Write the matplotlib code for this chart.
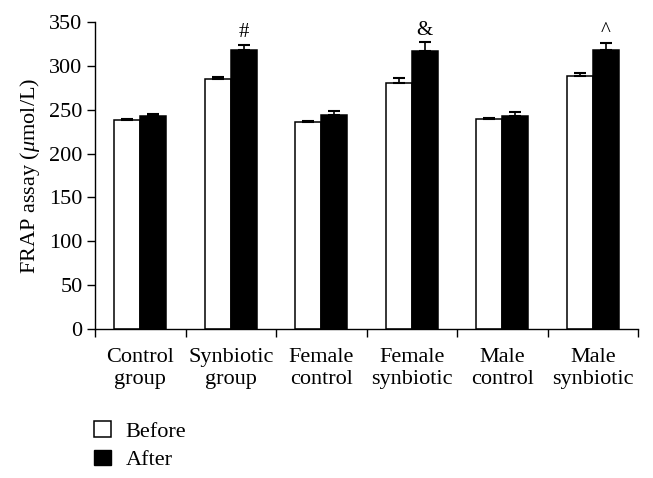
import matplotlib
matplotlib.use("Agg")
import matplotlib.pyplot as plt
import numpy as np
from matplotlib.patches import Patch
from matplotlib.ticker import FixedLocator

plt.rcParams['font.family'] = ['Liberation Serif', 'DejaVu Serif']
plt.rcParams['mathtext.fontset'] = 'custom'
plt.rcParams['mathtext.rm'] = 'Liberation Serif'
plt.rcParams['mathtext.it'] = 'Liberation Serif:italic'

categories = ["Control\ngroup", "Synbiotic\ngroup", "Female\ncontrol",
              "Female\nsynbiotic", "Male\ncontrol", "Male\nsynbiotic"]
before = [238, 284.5, 236.5, 280, 239.5, 289]
before_err = [1, 3, 1, 6, 1.5, 2.5]
after = [242.5, 318, 244, 317.5, 243, 318.5]
after_err = [3, 6, 5, 9.5, 4, 7]
marks = ["", "#", "", "&", "", "^"]
yticks = [0, 50, 100, 150, 200, 250, 300, 350]

fig = plt.figure(figsize=(6.53, 4.78), dpi=100)
ax = fig.add_axes([95/653, 1-329/478, (638-95)/653, (329-22)/478])

x = np.arange(len(categories))
w = 0.29
fs = 16

ax.bar(x - w/2, before, w, color='white', edgecolor='black', linewidth=1.1, zorder=2)
ax.bar(x + w/2, after, w, color='black', edgecolor='black', linewidth=1.1, zorder=2)
ax.errorbar(x - w/2, before, yerr=[np.zeros(len(before)), before_err], fmt='none',
            ecolor='black', elinewidth=1.2, capsize=4.5, capthick=1.5, zorder=3)
ax.errorbar(x + w/2, after, yerr=[np.zeros(len(after)), after_err], fmt='none',
            ecolor='black', elinewidth=1.2, capsize=4.5, capthick=1.5, zorder=3)

for xi, a, e, m in zip(x, after, after_err, marks):
    if m:
        ax.text(xi + w/2, a + e + 3, m, ha='center', va='bottom', fontsize=15)

ax.set_xlim(-0.5, len(categories) - 0.5)
ax.set_ylim(0, 350)
ax.set_yticks(yticks)
ax.set_xticks(x)
ax.set_xticklabels(categories, fontsize=fs, linespacing=1.15)
ax.xaxis.set_minor_locator(FixedLocator(np.arange(-0.5, len(categories), 1.0)))
ax.tick_params(axis='x', which='major', length=0, pad=14)
ax.tick_params(axis='x', which='minor', length=6, width=1, direction='out')
ax.tick_params(axis='y', length=6, width=1, direction='out', labelsize=fs, pad=3)
for s in ['top', 'right']:
    ax.spines[s].set_visible(False)
for s in ['left', 'bottom']:
    ax.spines[s].set_linewidth(1)

ax.set_ylabel(r"FRAP assay ($\mu$mol/L)", fontsize=fs, labelpad=5)

handles = [Patch(facecolor='white', edgecolor='black', linewidth=1.1, label='Before'),
           Patch(facecolor='black', edgecolor='black', label='After')]
fig.legend(handles=handles, loc='upper left', bbox_to_anchor=(90/653, 1-417/478),
           frameon=False, fontsize=fs, handlelength=0.75, handleheight=0.7,
           handletextpad=0.65, labelspacing=0.35, borderaxespad=0, borderpad=0.2)

fig.savefig("out.png", dpi=100)
